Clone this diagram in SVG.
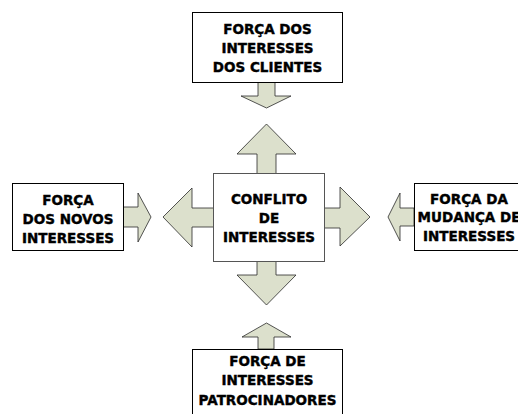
<svg xmlns="http://www.w3.org/2000/svg" width="518" height="414" viewBox="0 0 518 414">
<style>
.box{fill:#fff;stroke:#000;stroke-width:1}
.arr{fill:#DCE0CC;stroke:#2a2a2a;stroke-width:0.8;stroke-linejoin:miter}
text{font-family:"DejaVu Sans",Verdana,sans-serif;font-weight:bold;font-size:13.5px;fill:#000;stroke:#000;stroke-width:0.4;text-anchor:middle}
</style>
<rect width="518" height="414" fill="#fff"/>
<g id="connectors">
<path class="arr" d="M258,82 L275,82 L275,96 L291,96 L266.5,108 L241,96 L258,96 Z"/>
<path class="arr" d="M257,173 L257,154 L237,154 L266.5,124 L296,154 L276,154 L276,173"/>
<path class="arr" d="M257,261 L257,275 L237,275 L266.5,305 L296,275 L276,275 L276,261"/>
<path class="arr" d="M258,349 L258,337 L242,337 L266.5,323 L291,337 L274,337 L274,349 Z"/>
<path class="arr" d="M213,208 L192,208 L192,188 L163,217 L192,247 L192,227 L213,227"/>
<path class="arr" d="M123,207 L138,207 L138,193 L151,217 L138,242 L138,227 L123,227 Z"/>
<path class="arr" d="M324,208 L340,208 L340,187 L370,217 L340,246 L340,228 L324,228"/>
<path class="arr" d="M414,208 L400,208 L400,193 L388,217 L400,241 L400,226 L414,226 Z"/>
</g>
<g id="node-top">
<rect class="box" x="192.5" y="12.5" width="150" height="70"/>
<text x="267.5" y="34">FORÇA DOS</text>
<text x="267.5" y="53">INTERESSES</text>
<text x="267.5" y="72">DOS CLIENTES</text>
</g>
<g id="node-center">
<rect class="box" x="213.5" y="173.5" width="111" height="88" style="stroke:#555"/>
<text x="269" y="204">CONFLITO</text>
<text x="269" y="223">DE</text>
<text x="269" y="242">INTERESSES</text>
</g>
<g id="node-left">
<rect class="box" x="12.5" y="183.5" width="111" height="67"/>
<text x="68" y="205">FORÇA</text>
<text x="68" y="224">DOS NOVOS</text>
<text x="68" y="243">INTERESSES</text>
</g>
<g id="node-right">
<rect class="box" x="414.5" y="183.5" width="110" height="67"/>
<text x="469" y="204">FORÇA DA</text>
<text x="469" y="222">MUDANÇA DE</text>
<text x="469" y="241">INTERESSES</text>
</g>
<g id="node-bottom">
<rect class="box" x="192.5" y="349.5" width="150" height="75"/>
<text x="267.5" y="366">FORÇA DE</text>
<text x="267.5" y="385">INTERESSES</text>
<text x="267.5" y="405">PATROCINADORES</text>
</g>
</svg>
